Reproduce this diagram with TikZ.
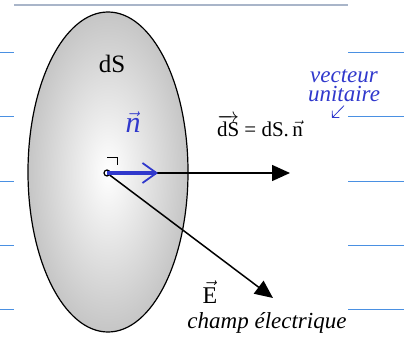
\documentclass[tikz,border=0pt]{standalone}
\usepackage{amsmath}
\usepackage{fontspec}
\setmainfont{Liberation Serif}
\usetikzlibrary{arrows.meta,positioning}
\definecolor{ink}{HTML}{3038CC}
\definecolor{rule}{HTML}{4A90E2}
\definecolor{topbar}{HTML}{A9B5C9}

\begin{document}
\begin{tikzpicture}[x=1pt,y=-1pt,>=Stealth,
  vec/.style={line width=1.5pt,-{Triangle[length=18pt,width=16pt]}},
  lbl/.style={font=\fontsize{21}{22}\selectfont},
  hand/.style={font=\itshape\fontsize{23}{19}\selectfont}]
\useasboundingbox (0,0) rectangle (404,342);
% ruled paper
\draw[topbar,line width=2.5pt] (14,5) -- (348,5);
\foreach \y in {53,117,181,245,309} {
  \draw[rule,line width=1pt] (0,\y) -- (14,\y);
  \draw[rule,line width=1pt] (348,\y) -- (404,\y);
}
% surface element
\shadedraw[inner color=white,outer color=gray!45,line width=1.2pt] (108,172) ellipse (80pt and 160pt);
\node[font=\fontsize{25}{26}\selectfont] (dsname) at (112,64) {dS};
\node[circle,draw,fill=white,line width=1.2pt,inner sep=0pt,minimum size=6pt] (O) at (107,173) {};
\coordinate (Stip) at (290,173);
\coordinate (Etip) at (273,298);
\draw[vec] (O) -- (Stip);
\draw[vec] (O) -- (Etip);
\draw[line width=0.8pt] ([yshift=16pt]O.center) -- ++(10,0) -- ++(0,8);
\node[lbl] (dsvec) at (260,126) {$\overrightarrow{\text{dS}}$ = dS.\,$\vec{\text{n}}$};
\node[font=\fontsize{24}{24}\selectfont] (evec) at (210,292) {$\vec{\text{E}}$};
% annotations
\draw[ink,line width=3.5pt,-{Straight Barb[length=14pt,width=20pt,line width=1.8pt]}] (O.center) -- (158,173);
\node[ink,font=\itshape\fontsize{30}{30}\selectfont] (nhand) at (133,122) {$\vec{\textit{n}}$};
\node[hand,ink,align=center] (unit) at (344,86) {vecteur\\unitaire};
\coordinate (ntop) at (332,118);
\draw[ink,line width=0.8pt,-{Straight Barb[length=5pt]}] (unit.south) -- (ntop);
\node[hand] (champ) at (267,323) {champ électrique};
\end{tikzpicture}
\end{document}
